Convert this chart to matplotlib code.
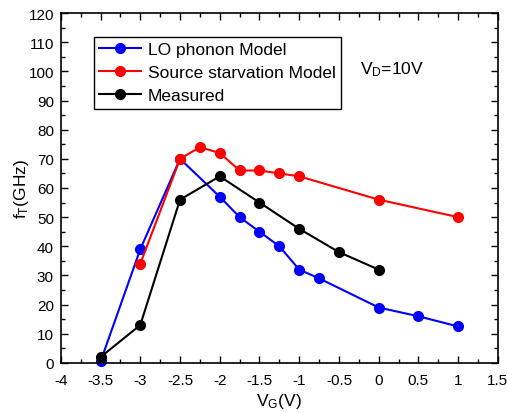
import matplotlib
matplotlib.use("Agg")
import matplotlib.pyplot as plt
from matplotlib.ticker import MultipleLocator, FuncFormatter

plt.rcParams['font.family'] = ['Liberation Sans', 'DejaVu Sans']
plt.rcParams['mathtext.fontset'] = 'custom'
plt.rcParams['mathtext.rm'] = 'Liberation Sans'
plt.rcParams['mathtext.it'] = 'Liberation Sans'
plt.rcParams['axes.unicode_minus'] = False

lo_x = [-3.5, -3, -2.5, -2, -1.75, -1.5, -1.25, -1, -0.75, 0, 0.5, 1]
lo_y = [0.5, 39, 70, 57, 50, 45, 40, 32, 29, 19, 16, 12.5]
ss_x = [-3, -2.5, -2.25, -2, -1.75, -1.5, -1.25, -1, 0, 1]
ss_y = [34, 70, 74, 72, 66, 66, 65, 64, 56, 50]
ms_x = [-3.5, -3, -2.5, -2, -1.5, -1, -0.5, 0]
ms_y = [2, 13, 56, 64, 55, 46, 38, 32]

fig = plt.figure(figsize=(5.07, 4.14), dpi=100)
ax = fig.add_axes([0.120, 0.121, 0.862, 0.845])

kw = dict(lw=1.5, marker='o', ms=7, clip_on=False)
ax.plot(lo_x, lo_y, color='#0000ff', label='LO phonon Model', **kw)
ax.plot(ss_x, ss_y, color='#ff0000', label='Source starvation Model', **kw)
ax.plot(ms_x, ms_y, color='#000000', label='Measured', **kw)

ax.set_xlim(-4, 1.5)
ax.set_ylim(0, 120)
ax.xaxis.set_major_locator(MultipleLocator(0.5))
ax.xaxis.set_minor_locator(MultipleLocator(0.25))
ax.yaxis.set_major_locator(MultipleLocator(10))
ax.yaxis.set_minor_locator(MultipleLocator(5))
fmt = FuncFormatter(lambda v, p: ('%g' % round(v, 6)))
ax.xaxis.set_major_formatter(fmt)
ax.yaxis.set_major_formatter(fmt)
ax.tick_params(which='both', direction='in', top=True, right=True, labelsize=11)
ax.tick_params(which='major', length=5, width=1)
ax.tick_params(which='minor', length=3, width=1)
ax.tick_params(axis='x', which='major', pad=7)
ax.tick_params(axis='y', which='major', pad=5)
for s in ax.spines.values():
    s.set_linewidth(1.2)

ax.set_xlabel(r'V$_\mathrm{G}$(V)', fontsize=12.5, labelpad=3)
ax.set_ylabel(r'f$_\mathrm{T}$(GHz)', fontsize=12.5, labelpad=-2)

ax.text(-0.24, 101, r'V$_\mathrm{D}$=10V', fontsize=12.5, ha='left', va='center')

leg = ax.legend(loc='upper left', bbox_to_anchor=(94/507, 1 - 38/414),
                bbox_transform=fig.transFigure, fontsize=12.5, frameon=True,
                fancybox=False, edgecolor='black', framealpha=1,
                handlelength=2.4, handletextpad=0.4, borderpad=0.3,
                labelspacing=0.45, borderaxespad=0)
leg.get_frame().set_linewidth(1.0)

fig.savefig('out.png', dpi=100)
